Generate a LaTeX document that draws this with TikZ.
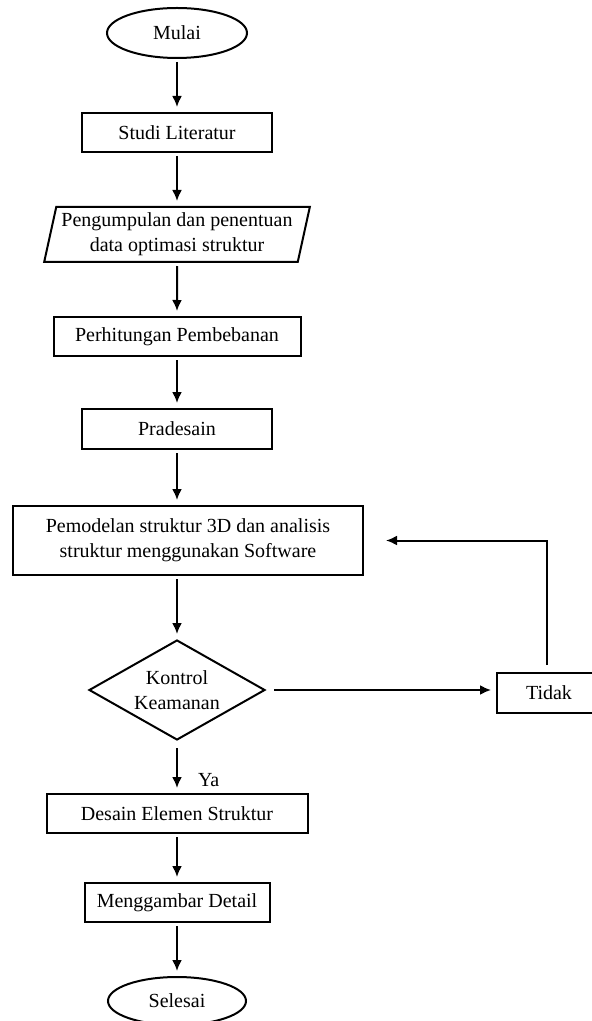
\documentclass[tikz,border=0pt]{standalone}
\usepackage{fontspec}
\setmainfont{Liberation Serif}
\usetikzlibrary{shapes.geometric,arrows.meta}
\begin{document}
\begin{tikzpicture}[x=0.5pt,y=-0.5pt,
  every node/.style={font=\fontsize{10}{12.5}\selectfont, line width=1pt, inner sep=0pt, align=center},
  kotak/.style={rectangle, draw=black, minimum height=19.5pt},
  terminal/.style={ellipse, draw=black},
  arus/.style={-{Latex[length=5.5pt,width=5pt]}, line width=1pt, shorten >=2.5pt, shorten <=1.5pt}]
\useasboundingbox (0,0) rectangle (591,1021);
\node[terminal, minimum width=70pt, minimum height=25pt] (mulai) at (177,33) {Mulai};
\node[kotak, minimum width=95pt] (studi) at (177,132.5) {Studi Literatur};
\node[trapezium, trapezium left angle=75, trapezium right angle=105, trapezium stretches=true, draw=black, minimum width=133pt, minimum height=27.5pt] (data) at (177,234.5) {Pengumpulan dan penentuan\\data optimasi struktur};
\node[kotak, minimum width=123.5pt] (hitung) at (177,336.5) {Perhitungan Pembebanan};
\node[kotak, minimum width=95pt, minimum height=20pt] (pradesain) at (177,429) {Pradesain};
\node[kotak, minimum width=175pt, minimum height=34.5pt] (model) at (188,540.5) {Pemodelan struktur 3D dan analisis\\struktur menggunakan Software};
\node[diamond, draw=black, aspect=1.76, minimum width=88pt, minimum height=50pt] (kontrol) at (177,690) {Kontrol\\Keamanan};
\node[kotak, minimum width=60pt, minimum height=20pt] (tidak) at (557,693) {Tidak\hspace*{8pt}};
\node[kotak, minimum width=130.5pt] (desain) at (177,813.5) {Desain Elemen Struktur};
\node[kotak, minimum width=92.5pt] (gambar) at (177,902.5) {Menggambar Detail};
\node[terminal, minimum width=69pt, minimum height=24pt] (selesai) at (177,1001) {Selesai};
\draw[arus] (mulai) -- (studi);
\draw[arus] (studi) -- (data);
\draw[arus] (data) -- (hitung);
\draw[arus] (hitung) -- (pradesain);
\draw[arus] (pradesain) -- (pradesain |- model.north);
\draw[arus] (model.south -| kontrol) -- (kontrol);
\draw[arus, shorten <=4pt] (kontrol.east) -- (kontrol.east -| tidak.west);
\draw[arus, shorten <=3.5pt, shorten >=11pt] ([xshift=-5pt]tidak.north) |- (model.east);
\draw[arus, shorten <=3.5pt] (kontrol.south) -- node[pos=0.75, right, xshift=10pt] {Ya} (desain.north);
\draw[arus] (desain) -- (gambar);
\draw[arus] (gambar) -- (selesai);
\end{tikzpicture}
\end{document}
